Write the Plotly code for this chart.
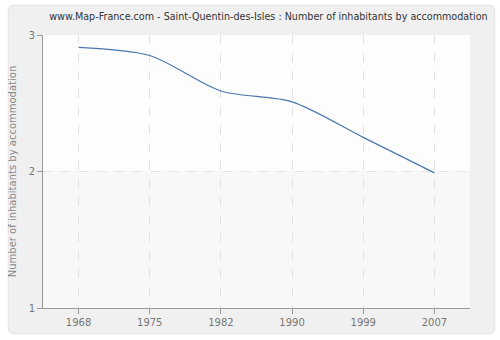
import plotly.graph_objects as go

years = ["1968", "1975", "1982", "1990", "1999", "2007"]
values = [2.91, 2.85, 2.59, 2.51, 2.25, 1.99]
y_ticks = [1, 2, 3]

L, R, T, B = 40, 30, 35, 31
W, H = 500, 340
pw, ph = W - L - R, H - T - B

def px(x):
    return (x - L) / pw

def py(y):
    return 1 - (y - T) / ph

fig = go.Figure()
fig.add_trace(go.Scatter(
    x=years, y=values, mode="lines",
    line=dict(color="#4a76ad", width=1.2, shape="spline", smoothing=0.8),
    hoverinfo="skip", showlegend=False,
))

# outer rounded panel
x0, x1, y0, y1 = px(5), px(495), py(335), py(5)
rx, ry = 6 / pw, 6 / ph
path = (f"M {x0+rx},{y1} L {x1-rx},{y1} Q {x1},{y1} {x1},{y1-ry} "
        f"L {x1},{y0+ry} Q {x1},{y0} {x1-rx},{y0} L {x0+rx},{y0} "
        f"Q {x0},{y0} {x0},{y0+ry} L {x0},{y1-ry} Q {x0},{y1} {x0+rx},{y1} Z")
shapes = [
    dict(type="path", path=path, xref="paper", yref="paper", layer="below",
         fillcolor="#f0f0f0", line=dict(color="#e4e4e4", width=1)),
    dict(type="rect", xref="paper", yref="y", x0=0, x1=1, y0=2, y1=3, layer="below",
         fillcolor="#fdfdfd", line=dict(width=0)),
    dict(type="rect", xref="paper", yref="y", x0=0, x1=1, y0=1, y1=2, layer="below",
         fillcolor="#f8f8f8", line=dict(width=0)),
]

fig.update_layout(
    width=W, height=H,
    margin=dict(l=L, r=R, t=T, b=B),
    paper_bgcolor="white", plot_bgcolor="rgba(0,0,0,0)",
    shapes=shapes,
    title=dict(text="www.Map-France.com - Saint-Quentin-des-Isles : Number of inhabitants by accommodation",
               x=px(267), xref="paper", xanchor="center", y=1 - 17 / H, yanchor="middle",
               font=dict(family="DejaVu Sans", size=9.6, color="#333333")),
    font=dict(family="DejaVu Sans", size=10, color="#777777"),
    xaxis=dict(type="category", range=[-0.5, 5.5], showline=True, linecolor="#999999",
               linewidth=1, ticks="outside", ticklen=5, tickcolor="#999999",
               showgrid=True, gridcolor="#e2e2e2", griddash="dash", gridwidth=1,
               tickfont=dict(size=10, color="#777777"), zeroline=False, fixedrange=True),
    yaxis=dict(range=[1, 3], tickvals=y_ticks, ticktext=[str(v) for v in y_ticks],
               showline=True, linecolor="#999999", linewidth=1, ticks="outside",
               ticklen=5, tickcolor="#999999", showgrid=True, gridcolor="#e2e2e2",
               griddash="dash", gridwidth=1, zeroline=False,
               tickfont=dict(size=10, color="#777777"),
               title=dict(text="Number of inhabitants by accommodation", standoff=10,
                          font=dict(size=10, color="#888888"))),
)

fig.write_html("out.html")
